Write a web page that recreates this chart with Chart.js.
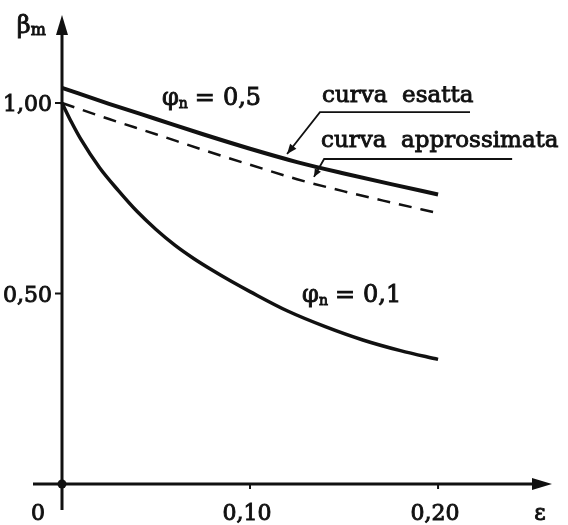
<!DOCTYPE html>
<html>
<head>
<meta charset="utf-8">
<script src="https://cdn.jsdelivr.net/npm/chart.js@4.4.1/dist/chart.umd.min.js"></script>
<style>
  html, body { margin: 0; padding: 0; background: #fff; }
  canvas { display: block; }
</style>
</head>
<body>
<canvas id="chart" width="568" height="525" style="width:568px;height:525px"></canvas>
<script>
// epsilon values and beta_m
const exactEps = [0, 0.025, 0.05, 0.075, 0.10, 0.125, 0.15, 0.175, 0.20];
const exactBeta = [1.04, 0.998, 0.958, 0.918, 0.88, 0.845, 0.815, 0.787, 0.76];

const approxEps = [0, 0.025, 0.05, 0.075, 0.10, 0.125, 0.15, 0.175, 0.20];
const approxBeta = [1.00, 0.958, 0.918, 0.877, 0.838, 0.80, 0.768, 0.739, 0.711];

const lowEps = [0, 0.005, 0.01, 0.02, 0.03, 0.04, 0.05, 0.06, 0.07, 0.08, 0.09, 0.10, 0.12, 0.14, 0.16, 0.18, 0.20];
const lowBeta = [1.00, 0.95, 0.905, 0.83, 0.77, 0.715, 0.668, 0.627, 0.592, 0.561, 0.532, 0.505, 0.454, 0.413, 0.378, 0.350, 0.327];

const xTicks = [0.10, 0.20];
const xTickLabels = ['0,10', '0,20'];
const yTicks = [0.50, 1.00];
const yTickLabels = ['0,50', '1,00'];

const ink = '#111';
const serif = '"DejaVu Serif", "Liberation Serif", serif';

function pts(xs, ys) {
  return xs.map((v, i) => ({ x: v, y: ys[i] }));
}

function arrowHead(ctx, tx, ty, angle, len, half) {
  ctx.save();
  ctx.translate(tx, ty);
  ctx.rotate(angle);
  ctx.beginPath();
  ctx.moveTo(0, 0);
  ctx.lineTo(-len, -half);
  ctx.lineTo(-len, half);
  ctx.closePath();
  ctx.fill();
  ctx.restore();
}

function text(ctx, str, px, py, size, align) {
  ctx.save();
  ctx.font = size + 'px ' + serif;
  ctx.textAlign = align || 'left';
  ctx.textBaseline = 'alphabetic';
  ctx.fillText(str, px, py);
  ctx.lineWidth = 0.9;
  ctx.strokeText(str, px, py);
  ctx.restore();
}

// phi_n = value, subscript drawn smaller
function phiLabel(ctx, px, py, value) {
  text(ctx, 'φ', px, py, 24);
  ctx.font = '24px ' + serif;
  let cx = px + ctx.measureText('φ').width;
  text(ctx, 'n', cx, py + 3, 14);
  ctx.font = '14px ' + serif;
  cx += ctx.measureText('n').width + 7;
  text(ctx, '=', cx, py, 24);
  ctx.font = '24px ' + serif;
  cx += ctx.measureText('=').width + 8;
  text(ctx, value, cx, py, 24);
}

const axesPlugin = {
  id: 'axes',
  beforeDatasetsDraw(chart) {
    const { ctx, chartArea } = chart;
    const x = chart.scales.x, y = chart.scales.y;
    const x0 = x.getPixelForValue(0);
    const y0 = y.getPixelForValue(0);
    ctx.save();
    ctx.strokeStyle = ink;
    ctx.fillStyle = ink;
    ctx.lineCap = 'butt';
    ctx.lineWidth = 3;

    // horizontal axis with arrow
    ctx.beginPath();
    ctx.moveTo(x0 - 29, y0);
    ctx.lineTo(chartArea.right - 12, y0);
    ctx.stroke();
    arrowHead(ctx, chartArea.right, y0, 0, 20, 6);

    // vertical axis with arrow
    ctx.beginPath();
    ctx.moveTo(x0, y0 + 26);
    ctx.lineTo(x0, chartArea.top + 12);
    ctx.stroke();
    arrowHead(ctx, x0, chartArea.top, -Math.PI / 2, 20, 6);

    // origin dot
    ctx.beginPath();
    ctx.arc(x0, y0, 4.5, 0, Math.PI * 2);
    ctx.fill();

    // ticks
    ctx.lineWidth = 2;
    xTicks.forEach((v, i) => {
      const px = x.getPixelForValue(v);
      ctx.beginPath();
      ctx.moveTo(px, y0);
      ctx.lineTo(px, y0 + 5);
      ctx.stroke();
      text(ctx, xTickLabels[i], px - 3, y0 + 36, 22, 'center');
    });
    yTicks.forEach((v, i) => {
      const py = y.getPixelForValue(v);
      ctx.beginPath();
      ctx.moveTo(x0 - 7, py);
      ctx.lineTo(x0, py);
      ctx.stroke();
      text(ctx, yTickLabels[i], x0 - 10, py + 8, 22, 'right');
    });
    text(ctx, '0', x0 - 24, y0 + 36, 22, 'center');

    // axis titles
    text(ctx, 'ε', chartArea.right - 12, y0 + 36, 22, 'center');
    const bx = x.getPixelForValue(-0.024);
    const by = y.getPixelForValue(1.184);
    text(ctx, 'β', bx, by, 24);
    ctx.font = '24px ' + serif;
    const bw = ctx.measureText('β').width;
    text(ctx, 'm', bx + bw, by + 2, 16);
    ctx.restore();
  },
  afterDatasetsDraw(chart) {
    const { ctx } = chart;
    const x = chart.scales.x, y = chart.scales.y;
    const P = (e, b) => [x.getPixelForValue(e), y.getPixelForValue(b)];
    ctx.save();
    ctx.strokeStyle = ink;
    ctx.fillStyle = ink;

    phiLabel(ctx, ...P(0.0532, 0.995), '0,5');
    phiLabel(ctx, ...P(0.1277, 0.478), '0,1');

    // curva esatta
    let [tx, ty] = P(0.1383, 1.003);
    text(ctx, 'curva  esatta', tx, ty, 23);
    let [ux1, uy] = P(0.1372, 0.976);
    let [ux2] = P(0.217, 0.976);
    ctx.lineWidth = 1.8;
    ctx.beginPath();
    ctx.moveTo(ux2, uy);
    ctx.lineTo(ux1, uy);
    let [ax, ay] = P(0.1197, 0.866);
    ctx.lineTo(ax, ay);
    ctx.stroke();
    arrowHead(ctx, ax, ay, Math.atan2(ay - uy, ax - ux1), 10, 4);

    // curva approssimata
    [tx, ty] = P(0.1378, 0.8845);
    text(ctx, 'curva  approssimata', tx, ty, 23);
    [ux1, uy] = P(0.1394, 0.853);
    [ux2] = P(0.2394, 0.853);
    ctx.lineWidth = 1.8;
    ctx.beginPath();
    ctx.moveTo(ux2, uy);
    ctx.lineTo(ux1, uy);
    [ax, ay] = P(0.134, 0.806);
    ctx.lineTo(ax, ay);
    ctx.stroke();
    arrowHead(ctx, ax, ay, Math.atan2(ay - uy, ax - ux1), 8, 3.5);
    ctx.restore();
  }
};

new Chart(document.getElementById('chart'), {
  type: 'line',
  data: {
    datasets: [
      {
        label: 'curva esatta',
        data: pts(exactEps, exactBeta),
        borderColor: ink,
        borderWidth: 4,
        cubicInterpolationMode: 'monotone'
      },
      {
        label: 'curva approssimata',
        data: pts(approxEps, approxBeta),
        borderColor: ink,
        borderWidth: 2.5,
        borderDash: [13, 9],
        cubicInterpolationMode: 'monotone'
      },
      {
        label: 'φn = 0,1',
        data: pts(lowEps, lowBeta),
        borderColor: ink,
        borderWidth: 3.5,
        cubicInterpolationMode: 'monotone'
      }
    ]
  },
  options: {
    responsive: false,
    animation: false,
    clip: false,
    devicePixelRatio: 1,
    layout: { padding: { left: 62, right: 16, top: 15, bottom: 41 } },
    elements: { point: { radius: 0 }, line: { fill: false } },
    plugins: { legend: { display: false }, tooltip: { enabled: false } },
    scales: {
      x: { type: 'linear', min: 0, max: 0.2606, display: false },
      y: { type: 'linear', min: 0, max: 1.231, display: false }
    }
  },
  plugins: [axesPlugin]
});
</script>
</body>
</html>
